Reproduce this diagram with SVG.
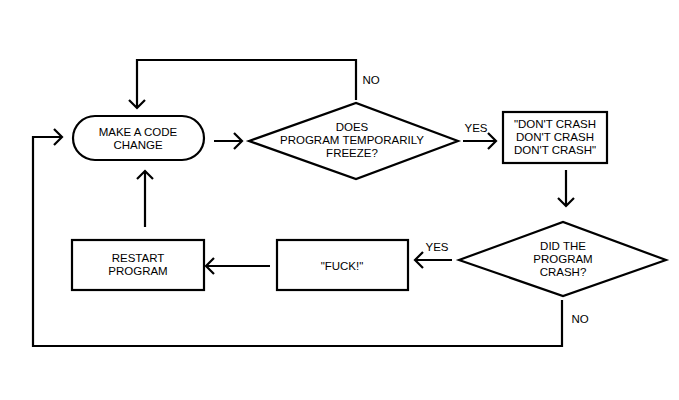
<svg xmlns="http://www.w3.org/2000/svg" width="679" height="400" viewBox="0 0 679 400">
<style>
.s{fill:#fff;stroke:#000;stroke-width:2.2}
.c{fill:none;stroke:#000;stroke-width:2.2}
text{font-family:"Liberation Sans",Arial,sans-serif;font-size:11.5px;fill:#000;text-anchor:middle}
</style>
<rect width="679" height="400" fill="#fff"/>
<g id="connectors" class="c">
<path d="M214,141H242M234,133L242,141L234,149"/>
<path d="M356,100V60H137V108M129,100L137,108L145,100"/>
<path d="M463,141H496M488,133L496,141L488,149"/>
<path d="M566,170V206M558,198L566,206L574,198"/>
<path d="M452,260H415M423,252L415,260L423,268"/>
<path d="M270,266H206M214,258L206,266L214,274"/>
<path d="M145,227V171M137,179L145,171L153,179"/>
<path d="M562,300V346H33V137H62M54,129L62,137L54,145"/>
</g>
<g id="labels">
<text x="371" y="84" text-anchor="start">NO</text>
<text x="476" y="132">YES</text>
<text x="437" y="251">YES</text>
<text x="580" y="323" text-anchor="start">NO</text>
</g>
<g id="make"><rect class="s" x="73" y="116" width="131" height="44" rx="22"/><text x="138" y="136">MAKE A CODE</text><text x="138" y="149">CHANGE</text></g>
<g id="freeze"><path class="s" d="M249,141L356,103L458,141L356,179Z"/><text x="352" y="131">DOES</text><text x="352" y="144">PROGRAM TEMPORARILY</text><text x="352" y="157">FREEZE?</text></g>
<g id="dontcrash"><rect class="s" x="503" y="112" width="104" height="51"/><text x="555" y="128">"DON'T CRASH</text><text x="555" y="141">DON'T CRASH</text><text x="555" y="154">DON'T CRASH"</text></g>
<g id="crash"><path class="s" d="M459,260L563,222L666,260L563,296Z"/><text x="563" y="250">DID THE</text><text x="563" y="263">PROGRAM</text><text x="563" y="276">CRASH?</text></g>
<g id="fuck"><rect class="s" x="277" y="240" width="131" height="50"/><text x="342" y="270">"FUCK!"</text></g>
<g id="restart"><rect class="s" x="72" y="240" width="132" height="50"/><text x="138" y="262">RESTART</text><text x="138" y="275">PROGRAM</text></g>
</svg>
